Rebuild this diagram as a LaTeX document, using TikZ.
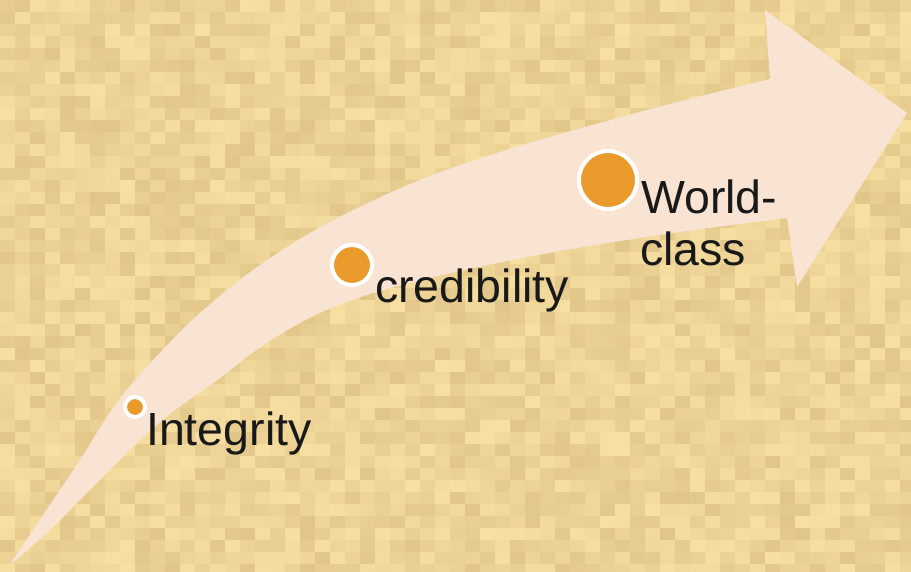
\documentclass[tikz,border=0pt]{standalone}
\usepackage{fontspec}
\setmainfont{Liberation Sans}
\definecolor{tanlight}{RGB}{247,223,162}
\definecolor{tandark}{RGB}{226,198,137}
\definecolor{arrowfill}{RGB}{249,227,211}
\definecolor{dotorange}{RGB}{234,154,42}
\definecolor{labelink}{RGB}{25,25,25}
\tikzset{
  dot/.style={circle, fill=dotorange, draw=white, line width=4pt, minimum size=#1, inner sep=0pt},
  wordlabel/.style={font=\fontsize{46.5}{52}\selectfont, text=labelink, inner sep=0pt, anchor=base west}
}
\begin{document}
\begin{tikzpicture}[x=1pt, y=-1pt]
\useasboundingbox (0,0) rectangle (911,571);
\clip (0,0) rectangle (911,571);
% background tiles
\pgfmathsetseed{7}
\foreach \i in {0,...,60}{
  \foreach \j in {0,...,47}{
    \pgfmathsetmacro\mix{int(random(0,100))}
    \fill[tanlight!\mix!tandark] (\i*15,\j*12) rectangle +(15,12);
  }
}
% the arrow
\fill[arrowfill] plot[smooth, tension=0.6] coordinates {(9,566) (45,512) (80,460) (115,405) (155,358) (200,313) (260,265) (330,222) (420,180) (513,148) (647,110) (770,79)}
  -- (765,10) -- (907,113) -- (797,287) -- (787,218)
  -- plot[smooth, tension=0.6] coordinates {(787,218) (680,232) (560,251) (460,271) (380,291) (320,313) (265,344) (220,378) (170,414) (130,450) (90,490) (50,530) (9,566)}
  -- cycle;
% dots
\node[dot=20pt] (integritydot) at (135,407) {};
\node[dot=40pt] (credibilitydot) at (352,265) {};
\node[dot=58pt] (worlddot) at (608,180) {};
% labels
\node[wordlabel] (integrity) at (146,445) {Integrity};
\node[wordlabel] (credibility) at (375,302) {credibility};
\node[wordlabel] (world) at (641,213) {World-};
\node[wordlabel] (class) at (640,265) {class};
\end{tikzpicture}
\end{document}
